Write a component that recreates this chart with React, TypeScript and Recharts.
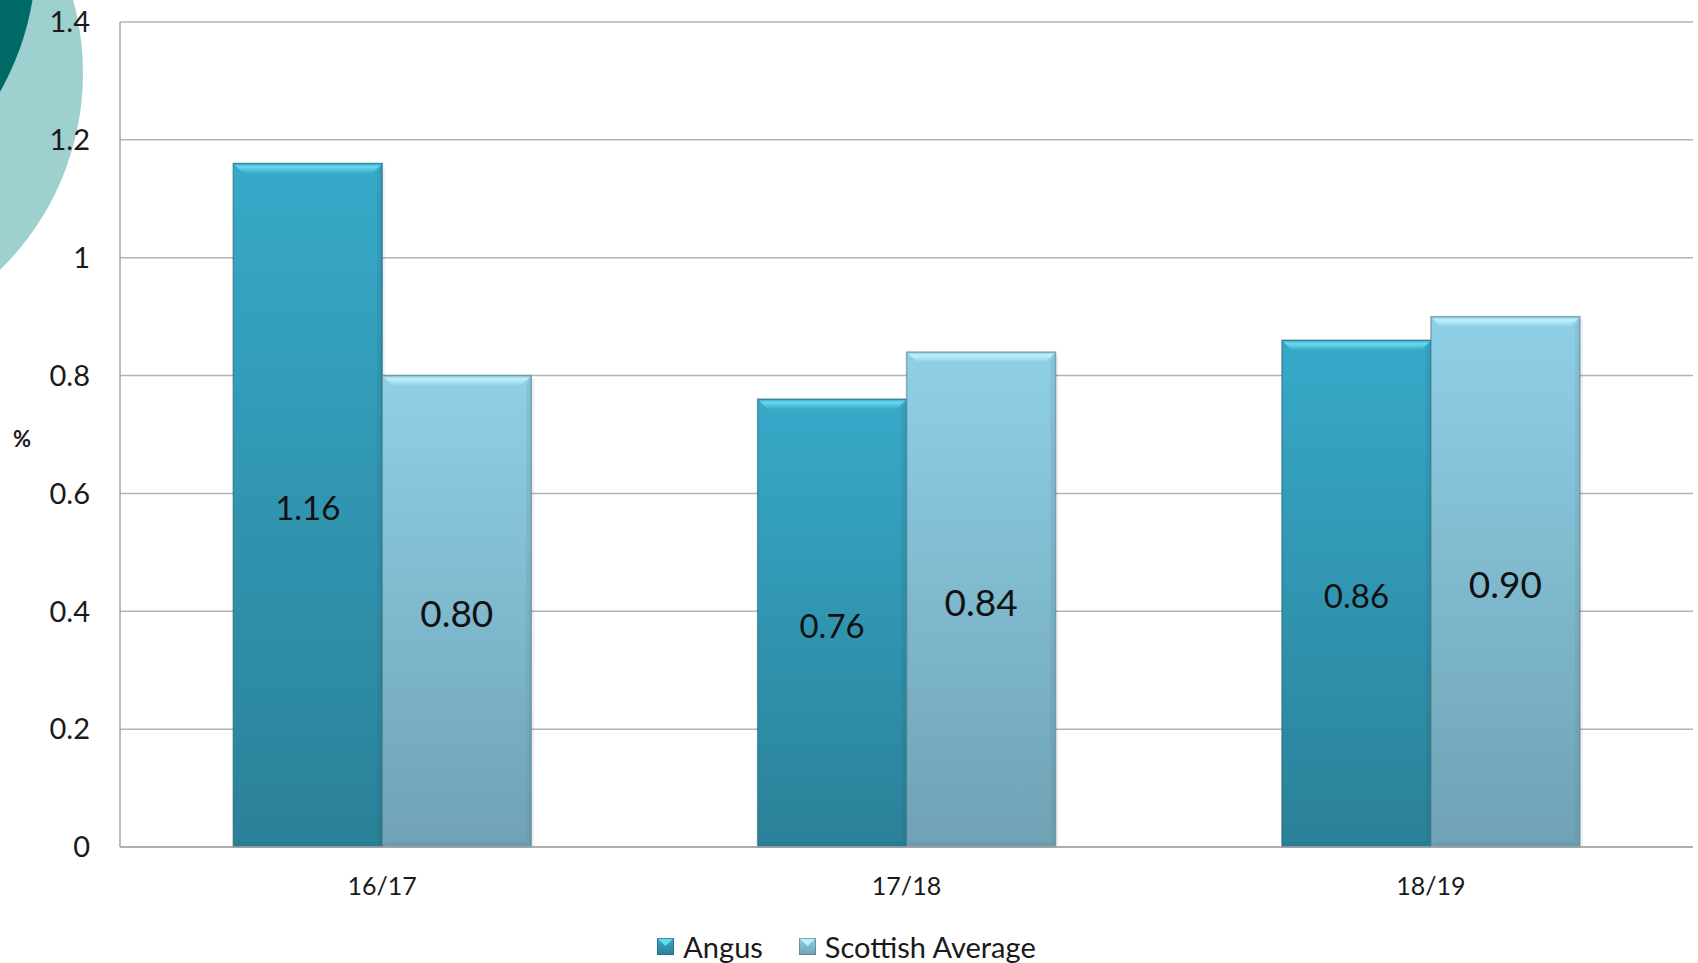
import React from "react";
import {
  Bar,
  BarChart,
  CartesianGrid,
  LabelList,
  Legend,
  XAxis,
  YAxis,
} from "recharts";

const years = ["16/17", "17/18", "18/19"];
const angus = [1.16, 0.76, 0.86];
const scottishAverage = [0.8, 0.84, 0.9];
const yTicks = [0, 0.2, 0.4, 0.6, 0.8, 1, 1.2, 1.4];

const data = years.map((year, i) => ({
  year,
  angus: angus[i],
  scottish: scottishAverage[i],
}));

const palette = {
  angus: { top: "#37a9c9", bottom: "#2a8198", bevel: "#6ad8f0", edge: "#1d5e70" },
  scottish: { top: "#8fd0e7", bottom: "#6fa2b4", bevel: "#bff0fa", edge: "#4d7785" },
};

const FONT = "Lato, 'Open Sans', sans-serif";

function BevelBar(kind: "angus" | "scottish") {
  return (props: any) => {
    const { x, y, width, height } = props;
    if (!height || height <= 0) return null;
    const b = 10;
    const s = 5;
    const c = palette[kind];
    return (
      <g>
        {/* soft shadow on the right */}
        <rect x={x + width} y={y + 3} width={3} height={height - 3} fill="#000" opacity={0.06} />
        <rect x={x} y={y} width={width} height={height} fill={`url(#grad-${kind})`} />
        {/* top bevel */}
        <polygon
          points={`${x},${y} ${x + width},${y} ${x + width - b},${y + b} ${x + b},${y + b}`}
          fill={`url(#bevel-${kind})`}
        />
        {/* right shading */}
        <polygon
          points={`${x + width},${y} ${x + width},${y + height} ${x + width - s},${y + height - s} ${x + width - s},${y + b}`}
          fill={c.edge}
          opacity={0.14}
        />
        {/* bottom shading */}
        <polygon
          points={`${x},${y + height} ${x + width},${y + height} ${x + width - s},${y + height - s} ${x + s},${y + height - s}`}
          fill={c.edge}
          opacity={0.12}
        />
        <rect x={x} y={y} width={width} height={height} fill="none" stroke={c.edge} strokeOpacity={0.55} strokeWidth={1.5} />
      </g>
    );
  };
}

function LegendIcon({ kind }: { kind: "angus" | "scottish" }) {
  const c = palette[kind];
  return (
    <svg width={17} height={17} style={{ display: "block" }}>
      <defs>
        <linearGradient id={`leg-${kind}`} x1="0" y1="0" x2="0" y2="1">
          <stop offset="0%" stopColor={c.top} />
          <stop offset="100%" stopColor={c.bottom} />
        </linearGradient>
      </defs>
      <rect x={0} y={0} width={17} height={17} fill={`url(#leg-${kind})`} />
      <polygon points="0,0 17,0 8.5,8" fill={c.bevel} />
      <rect x={0.5} y={0.5} width={16} height={16} fill="none" stroke={c.edge} strokeOpacity={0.6} />
    </svg>
  );
}

const legendItems: { kind: "angus" | "scottish"; label: string }[] = [
  { kind: "angus", label: "Angus" },
  { kind: "scottish", label: "Scottish Average" },
];

function renderLegend() {
  return (
    <div
      style={{
        height: 36,
        display: "flex",
        justifyContent: "center",
        alignItems: "center",
        paddingTop: 2,
        boxSizing: "border-box",
        fontFamily: FONT,
        fontSize: 29,
        color: "#1a1a1a",
      }}
    >
      {legendItems.map((item, i) => (
        <div
          key={item.kind}
          style={{ display: "flex", alignItems: "center", marginLeft: i ? 36 : 0 }}
        >
          <LegendIcon kind={item.kind} />
          <span style={{ marginLeft: 9 }}>{item.label}</span>
        </div>
      ))}
    </div>
  );
}

export default function App() {
  return (
    <div
      style={{
        position: "absolute",
        left: 0,
        top: 0,
        width: 1698,
        height: 963,
        overflow: "hidden",
        background: "#ffffff",
      }}
    >
      {/* decorative circles in the corner */}
      <svg width={1698} height={963} style={{ position: "absolute", left: 0, top: 0 }}>
        <circle cx={-192} cy={73} r={275} fill="#9fd0d0" />
        <circle cx={-238} cy={-44} r={274} fill="#006b66" />
      </svg>
      <div style={{ position: "absolute", left: 0, top: 0 }}>
        <BarChart
          width={1698}
          height={963}
          data={data}
          margin={{ top: 22, right: 5, bottom: 0, left: 0 }}
          barCategoryGap="21.6%"
          barGap={0}
          style={{ fontFamily: FONT }}
        >
          <defs>
            {(["angus", "scottish"] as const).map((k) => (
              <linearGradient key={k} id={`grad-${k}`} x1="0" y1="0" x2="0" y2="1">
                <stop offset="0%" stopColor={palette[k].top} />
                <stop offset="100%" stopColor={palette[k].bottom} />
              </linearGradient>
            ))}
            {(["angus", "scottish"] as const).map((k) => (
              <linearGradient key={`b-${k}`} id={`bevel-${k}`} x1="0" y1="0" x2="0" y2="1">
                <stop offset="0%" stopColor={palette[k].top} />
                <stop offset="35%" stopColor={palette[k].bevel} />
                <stop offset="100%" stopColor={palette[k].top} />
              </linearGradient>
            ))}
          </defs>
          <CartesianGrid vertical={false} stroke="#b4b4b4" strokeWidth={1.5} />
          <XAxis
            dataKey="year"
            height={80}
            axisLine={{ stroke: "#a6a6a6", strokeWidth: 1.5 }}
            tickLine={false}
            tickSize={6}
            tickMargin={24}
            tick={{ fill: "#1a1a1a", fontSize: 25 }}
          />
          <YAxis
            width={120}
            domain={[0, 1.4]}
            ticks={yTicks}
            interval={0}
            axisLine={{ stroke: "#a6a6a6", strokeWidth: 1.5 }}
            tickLine={false}
            tickSize={28}
            tickMargin={2}
            tick={{ fill: "#1a1a1a", fontSize: 29 }}
            tickFormatter={(v: number) => String(v)}
            label={{
              value: "%",
              position: "insideLeft",
              offset: 13,
              dy: 5,
              style: { fontSize: 22, fontWeight: 700, fill: "#1a1a1a", textAnchor: "start" },
            }}
          />
          <Legend verticalAlign="bottom" content={renderLegend} />
          <Bar
            dataKey="angus"
            name="Angus"
            fill="#37a9c9"
            shape={BevelBar("angus")}
            isAnimationActive={false}
          >
            <LabelList
              dataKey="angus"
              position="center"
              dy={3}
              formatter={(v: number) => v.toFixed(2)}
              style={{ fontSize: 33, fill: "#111111", fontFamily: FONT }}
            />
          </Bar>
          <Bar
            dataKey="scottish"
            name="Scottish Average"
            fill="#8fd0e7"
            shape={BevelBar("scottish")}
            isAnimationActive={false}
          >
            <LabelList
              dataKey="scottish"
              position="center"
              dy={3}
              formatter={(v: number) => v.toFixed(2)}
              style={{ fontSize: 37, fill: "#111111", fontFamily: FONT }}
            />
          </Bar>
        </BarChart>
      </div>
    </div>
  );
}
